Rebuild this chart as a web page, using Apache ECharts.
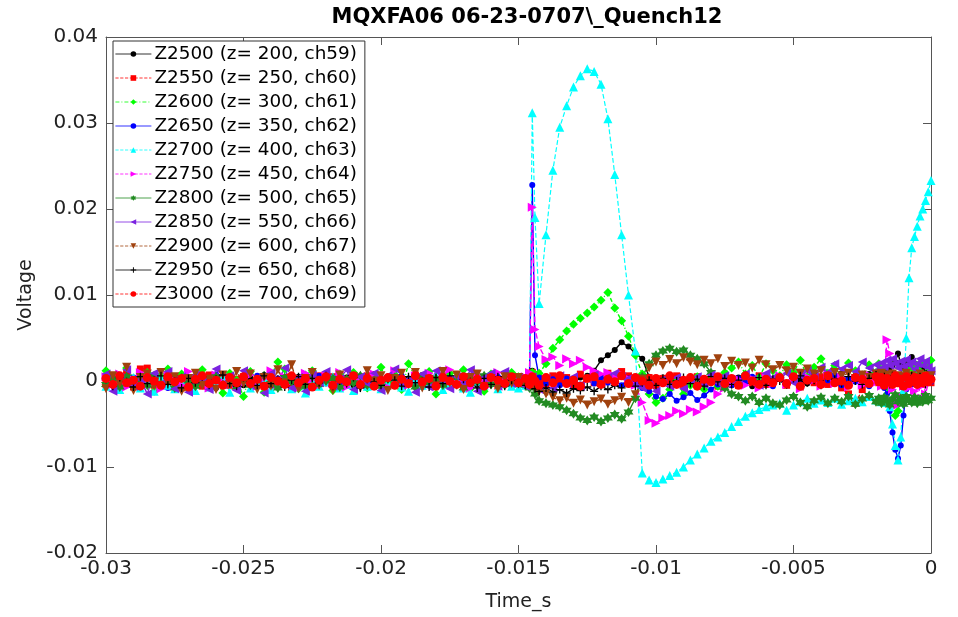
<!DOCTYPE html>
<html>
<head>
<meta charset="utf-8">
<script src="https://cdn.jsdelivr.net/npm/echarts@6/dist/echarts.min.js"></script>
<style>
html,body{margin:0;padding:0;background:#fff;}
#chart{width:958px;height:617px;}
</style>
</head>
<body>
<div id="chart"></div>
<script>
// Time samples in milliseconds
const time_ms = [
-30,-29.75,-29.5,-29.25,-29,-28.75,-28.5,-28.25,-28,-27.75,-27.5,-27.25,-27,-26.75,-26.5,-26.25,-26,-25.75,-25.5,-25.25,
-25,-24.75,-24.5,-24.25,-24,-23.75,-23.5,-23.25,-23,-22.75,-22.5,-22.25,-22,-21.75,-21.5,-21.25,-21,-20.75,-20.5,-20.25,
-20,-19.75,-19.5,-19.25,-19,-18.75,-18.5,-18.25,-18,-17.75,-17.5,-17.25,-17,-16.75,-16.5,-16.25,-16,-15.75,-15.5,-15.25,
-15,-14.75,-14.6,-14.5,-14.4,-14.25,-14,-13.75,-13.5,-13.25,-13,-12.75,-12.5,-12.25,-12,-11.75,-11.5,-11.25,-11,-10.75,
-10.5,-10.25,-10,-9.75,-9.5,-9.25,-9,-8.75,-8.5,-8.25,-8,-7.75,-7.5,-7.25,-7,-6.75,-6.5,-6.25,-6,-5.75,
-5.5,-5.25,-5,-4.75,-4.5,-4.25,-4,-3.75,-3.5,-3.25,-3,-2.75,-2.5,-2.25,-2,
-1.9,-1.8,-1.7,-1.6,-1.5,-1.4,-1.3,-1.2,-1.1,-1.0,-0.9,-0.8,-0.7,-0.6,-0.5,-0.4,-0.3,-0.2,-0.1,0
];

// Voltages in millivolts
const z2500_mV = [
0.3,-0.5,0.6,-0.2,0.1,-0.7,0.4,0.0,-0.3,0.8,-0.4,0.2,-0.6,0.5,-0.1,0.3,-0.8,0.2,0.6,-0.3,
-0.5,0.4,-0.1,0.7,-0.6,0.2,0.0,-0.4,0.5,-0.2,0.3,-0.7,0.6,-0.3,0.1,0.4,-0.5,0.2,-0.1,0.8,
-0.2,0.5,-0.6,0.1,0.3,-0.4,0.7,-0.3,0.0,0.4,-0.7,0.2,0.5,-0.5,0.1,-0.2,0.6,-0.4,0.3,-0.6,
0.2,-0.3,0.1,1.2,0.4,-0.5,-0.2,0.3,-0.4,0.2,-0.3,0.4,0.6,1.2,2.4,3.0,3.6,4.5,4.0,3.2,
2.6,0.5,-0.3,0.4,-0.6,0.2,-0.2,0.5,-0.4,0.1,0.6,-0.3,0.2,-0.5,0.4,0.0,-0.6,0.3,0.7,-0.2,
0.4,-0.5,0.6,0.1,-0.3,0.8,0.2,-0.4,0.5,0.9,-0.2,0.6,0.3,0.8,0.4,
0.6,1.0,0.5,1.2,1.5,1.8,2.2,3.2,2.0,1.5,1.8,2.3,2.8,2.0,1.6,1.2,1.5,0.9,1.1,0.7
];
const z2550_mV = [
-0.4,0.6,-0.2,0.9,-0.7,1.4,1.5,-0.5,0.1,-0.3,0.5,-0.8,0.2,0.4,-0.6,0.7,-0.1,0.3,-0.5,0.2,
0.5,-0.3,0.1,-0.6,0.8,-0.2,0.4,-0.9,0.3,0.0,-0.4,0.6,-0.1,0.5,-0.7,0.2,0.4,-0.3,0.6,-0.5,
0.1,-0.6,0.4,0.2,-0.3,0.7,-0.5,0.3,-0.1,0.6,-0.4,0.2,-0.8,0.5,0.0,-0.3,0.4,-0.6,0.2,0.5,
-0.3,0.2,0.0,1.0,0.5,0.3,-0.4,0.6,-0.2,0.4,-0.5,0.8,0.3,-0.2,0.5,0.9,0.4,1.1,0.6,0.2,
-0.2,0.4,-0.5,0.3,-0.1,0.6,-0.4,0.2,0.5,-0.3,0.1,-0.6,0.4,0.0,-0.5,0.3,-0.2,0.6,-0.4,0.1,
0.3,-0.5,0.2,-0.7,0.4,-0.2,0.5,-0.4,0.1,-0.8,-1.5,-2.6,-1.0,-0.3,0.4,
-0.2,0.5,-0.4,0.3,-0.6,0.2,-0.3,0.4,-0.1,0.6,-0.5,0.2,-0.3,0.5,-0.2,0.3,-0.4,0.1,0.4,-0.2
];
const z2600_mV = [
1.2,0.4,-0.8,1.5,0.3,-0.5,1.0,-1.2,0.6,1.4,-0.3,0.8,-1.0,0.5,1.3,-0.6,0.2,-1.4,0.9,0.1,
-1.8,1.1,0.3,-1.3,0.6,2.2,1.4,0.0,-0.9,0.7,1.2,-0.5,0.3,-1.1,0.8,-0.4,1.0,0.2,-0.8,0.5,
1.6,-0.3,0.7,-1.0,2.0,0.4,-0.6,1.1,-1.5,0.3,0.9,-0.4,1.3,-0.9,0.5,-1.2,0.8,0.1,-0.5,1.0,
0.5,0.3,0.2,1.0,0.8,0.9,2.0,3.8,4.8,5.8,6.6,7.3,7.9,8.6,9.4,10.3,8.5,7.0,5.2,3.0,
0.8,-1.5,-2.5,-2.0,-1.0,0.0,-1.5,-0.5,0.5,-1.0,0.3,-0.6,1.0,1.5,2.2,0.8,1.8,0.4,2.0,1.2,
0.6,1.9,1.0,2.4,0.5,1.6,2.6,0.9,1.8,0.3,2.1,1.2,0.7,1.9,1.0,
2.0,0.8,1.6,0.4,-1.0,-2.5,-4.0,-3.5,-2.0,0.2,1.2,0.6,1.5,0.9,1.8,1.1,2.2,0.7,1.6,2.4
];
const z2650_mV = [
-0.3,0.5,-0.7,0.2,0.4,-0.5,0.1,0.6,-0.2,-0.8,0.3,0.0,0.5,-0.4,0.2,-0.6,0.7,-0.1,0.3,-0.5,
0.4,-0.2,0.6,-0.6,0.1,0.3,-0.4,0.5,-0.7,0.2,0.0,0.6,-0.3,0.4,-0.5,0.1,0.7,-0.2,-0.6,0.3,
-0.1,0.4,-0.5,0.6,-0.3,0.2,-0.7,0.5,0.1,-0.4,0.3,-0.2,0.6,-0.6,0.4,0.0,-0.3,0.5,-0.5,0.2,
0.3,-0.2,0.5,22.8,3.0,0.4,-0.3,0.2,-0.5,0.3,0.0,-0.4,0.2,-0.3,0.4,-0.2,0.1,-0.5,0.3,0.0,
-0.8,-1.2,-1.8,-2.1,-1.5,-2.3,-1.9,-1.4,-2.2,-1.7,-1.0,-0.4,0.2,-0.5,0.3,-0.2,0.5,-0.3,0.1,-0.6,
0.4,-0.2,0.6,-0.4,0.2,0.5,-0.3,0.1,0.7,-0.5,0.3,-0.1,0.4,-0.6,0.2,
0.5,-0.3,-0.8,-1.5,-3.5,-6.0,-8.0,-9.0,-7.5,-4.0,-1.0,0.3,-0.4,0.5,-0.2,0.6,-0.3,0.2,0.4,-0.1
];
const z2700_mV = [
-0.6,0.2,-1.0,-0.3,0.4,-0.8,-0.1,-1.2,0.3,-0.5,-0.9,0.1,-0.4,-1.1,0.2,-0.7,-0.2,0.5,-1.3,-0.4,
0.1,-0.8,-0.3,0.4,-1.0,-0.5,0.2,-0.9,-0.2,-1.4,0.3,-0.6,-0.1,0.5,-0.8,-0.4,-1.1,0.0,-0.6,0.3,
-0.9,-0.2,0.4,-0.7,-1.2,0.1,-0.5,-0.3,0.6,-1.0,-0.4,0.2,-0.8,-1.3,0.0,-0.5,0.3,-0.9,-0.2,-0.6,
-0.8,-0.5,0.5,31.2,19.0,9.0,17.0,24.5,29.5,32.0,34.2,35.5,36.3,36.0,34.5,30.5,24.0,17.0,10.0,3.5,
-10.7,-11.5,-11.8,-11.4,-11.0,-10.6,-10.0,-9.2,-8.5,-7.8,-7.0,-6.5,-6.0,-5.3,-4.7,-4.1,-3.7,-3.3,-3.0,-2.8,
-2.6,-3.4,-2.8,-2.4,-2.0,-2.6,-2.2,-2.5,-2.0,-2.7,-2.3,-2.0,-2.4,-1.8,-2.2,
-2.0,-2.4,-1.8,-2.5,-3.0,-5.0,-7.5,-9.2,-6.5,-1.0,5.0,12.0,15.5,16.8,18.0,19.2,20.0,21.0,22.0,23.3
];
const z2750_mV = [
0.5,-0.4,0.8,-0.7,0.2,1.0,-0.3,0.4,-0.9,0.6,0.1,-0.5,1.1,-0.2,0.3,-0.8,0.7,-0.1,0.4,-0.6,
-0.2,0.7,-0.6,0.3,1.2,-0.4,0.5,-0.1,-0.8,0.9,0.2,-0.5,0.6,-0.3,1.0,-0.7,0.4,0.1,-0.4,0.8,
0.3,-0.7,1.2,0.0,-0.5,0.6,-0.2,0.9,-0.6,0.4,1.3,-0.3,0.2,-0.8,0.7,0.1,-0.4,1.0,-0.1,0.5,
0.3,0.5,1.0,20.2,6.0,4.0,2.5,2.8,1.8,2.6,2.0,2.4,1.6,1.2,0.8,1.0,0.5,0.8,0.3,-0.5,
-2.5,-4.6,-4.9,-4.3,-4.0,-3.5,-3.8,-3.3,-3.6,-3.0,-2.5,-1.5,-0.8,-0.3,0.2,-0.5,0.3,-0.8,0.5,-0.3,
0.6,-0.4,0.2,-0.9,0.5,0.1,-0.6,0.8,-0.3,0.4,-0.7,0.2,-0.5,0.7,-0.2,
0.4,-0.6,0.3,4.8,3.2,-1.0,-2.5,-2.8,-1.8,-0.6,0.3,-0.8,0.5,-1.2,-2.0,-0.7,0.4,-1.5,-0.3,0.2
];
const z2800_mV = [
-0.4,0.3,-0.7,0.5,-0.1,0.2,-0.5,0.6,-0.3,0.1,-0.8,0.4,0.0,-0.6,0.3,-0.2,0.5,-0.4,0.2,-0.7,
0.3,-0.5,0.1,0.6,-0.3,-0.8,0.4,-0.1,0.2,-0.6,0.5,-0.4,0.0,0.3,-0.7,0.2,-0.2,0.6,-0.5,0.1,
-0.6,0.2,0.4,-0.3,0.1,-0.7,0.5,-0.2,0.3,-0.5,0.0,0.4,-0.8,0.2,-0.1,0.6,-0.4,0.1,-0.3,0.3,
-0.3,-0.5,-0.8,-0.5,-1.5,-2.3,-2.6,-2.8,-3.0,-3.4,-3.8,-4.3,-4.6,-4.2,-4.7,-4.3,-3.9,-4.4,-3.6,-2.0,
0.5,2.0,3.0,3.5,3.8,3.4,3.6,3.0,2.6,2.0,1.0,0.3,-0.8,-1.5,-1.8,-2.3,-1.8,-2.5,-2.0,-2.6,
-2.8,-2.2,-1.8,-2.5,-3.0,-2.3,-1.9,-2.6,-2.0,-2.4,-1.8,-2.7,-2.1,-1.7,-2.4,
-2.0,-2.6,-1.9,-2.3,-2.8,-2.1,-1.6,-2.4,-2.0,-2.7,-1.8,-2.2,-2.5,-1.9,-2.6,-2.1,-2.4,-1.7,-2.3,-2.0
];
const z2850_mV = [
0.8,-1.2,0.4,1.3,-0.6,0.2,-1.5,0.9,-0.3,1.1,-0.9,0.5,-1.3,0.7,0.1,-1.0,1.4,-0.4,0.6,-1.1,
1.2,-0.5,0.3,-1.4,0.9,0.0,1.5,-0.8,0.4,-1.2,0.7,-0.2,1.1,-0.6,0.3,1.3,-1.0,0.5,-0.3,0.9,
-1.1,0.6,1.4,-0.4,0.2,-1.3,0.8,-0.7,1.2,0.1,-0.9,0.5,-0.2,1.3,-1.2,0.4,0.9,-0.6,1.1,-0.3,
0.4,-0.6,0.2,0.5,-0.4,-1.0,0.3,-0.8,0.6,-0.3,0.5,-0.6,0.2,0.7,-0.2,0.4,0.9,0.5,0.3,-0.4,
-0.8,-0.3,-1.2,0.2,-0.6,0.4,-0.9,0.1,0.5,-0.4,0.7,-0.2,0.6,0.1,-0.3,0.8,0.2,-0.5,0.9,0.4,
0.3,0.9,-0.2,0.6,1.2,0.5,1.6,1.0,2.0,1.4,1.8,1.1,2.2,1.5,1.9,
1.3,2.1,1.6,2.4,1.8,2.6,2.0,1.5,2.3,1.7,2.5,1.9,2.2,1.4,2.0,2.6,1.8,2.3,1.6,1.2
];
const z2900_mV = [
-0.9,0.6,-0.3,1.6,-1.1,0.4,0.8,-0.6,1.0,-0.2,0.5,-1.2,0.3,0.9,-0.5,0.2,-1.0,0.7,-0.4,1.1,
-0.3,0.8,-1.0,0.4,-0.6,1.3,-0.2,1.9,-0.9,0.3,1.0,-0.5,0.2,-1.1,0.7,-0.3,0.5,-0.8,1.2,0.0,
0.6,-1.1,0.3,0.9,-0.4,1.0,-0.8,0.2,-0.5,1.1,-0.2,0.7,-1.0,0.4,0.8,-0.6,0.3,-0.9,0.5,-0.3,
0.4,-0.3,-0.5,-0.2,-0.8,-1.2,-1.5,-1.9,-2.3,-2.0,-2.6,-2.2,-2.8,-2.4,-2.1,-2.7,-2.3,-1.9,-2.5,-1.6,
0.2,1.5,2.2,1.8,2.5,2.0,2.7,2.2,1.9,2.4,2.0,2.6,1.7,2.3,1.8,2.1,1.5,2.4,1.9,1.3,
1.8,1.2,1.6,0.9,1.4,0.8,1.2,0.5,1.0,0.6,0.9,0.3,0.7,0.4,0.8,
0.5,0.9,0.2,0.7,0.3,0.8,0.1,0.6,-0.2,0.5,0.9,0.2,0.6,-0.1,0.4,0.8,0.3,0.5,0.0,0.6
];
const z2950_mV = [
0.2,-0.6,0.4,-0.1,-0.7,0.5,-0.3,0.1,0.6,-0.4,0.0,-0.8,0.3,-0.2,0.5,-0.5,0.2,0.7,-0.3,-0.6,
0.4,-0.1,-0.5,0.6,-0.3,0.2,-0.7,0.1,0.5,-0.4,0.3,-0.2,0.6,-0.6,0.0,-0.3,0.4,-0.8,0.2,-0.1,
-0.5,0.3,0.1,-0.6,0.5,-0.2,0.0,-0.7,0.4,-0.3,0.6,-0.5,0.2,-0.1,-0.8,0.3,-0.4,0.5,-0.6,0.1,
-0.3,-0.5,-0.4,-0.2,-0.9,-1.2,-0.8,-1.3,-1.0,-1.4,-0.9,-1.1,-0.7,-1.2,-0.6,-1.0,-0.5,-0.8,-0.3,-0.6,
-0.2,0.1,-0.5,0.3,-0.4,0.0,0.4,-0.3,0.2,-0.6,0.5,-0.1,0.3,-0.4,0.1,0.6,-0.2,0.4,-0.5,0.2,
0.0,-0.4,0.3,0.6,-0.2,0.1,-0.5,0.4,0.2,-0.3,0.5,0.0,-0.4,0.3,0.7,
0.2,-0.3,0.5,0.1,-0.4,0.6,-0.1,0.3,-0.5,0.2,0.4,-0.2,0.6,0.0,-0.3,0.5,0.1,-0.4,0.3,0.2
];
const z3000_mV = [
0.3,-0.4,0.6,-0.2,0.1,-0.6,0.4,0.0,-0.5,0.5,-0.1,0.3,-0.7,0.2,0.6,-0.3,0.1,-0.5,0.4,-0.2,
0.5,-0.3,0.2,-0.6,0.4,0.0,-0.4,0.6,-0.2,0.3,-0.7,0.1,0.5,-0.5,0.2,-0.1,0.6,-0.4,0.3,-0.6,
0.1,0.4,-0.5,0.2,-0.3,0.6,-0.1,0.3,-0.6,0.4,0.0,-0.4,0.5,-0.2,0.2,-0.6,0.4,0.1,-0.3,0.5,
-0.2,0.3,-0.4,0.5,0.0,-0.5,0.4,-0.2,0.6,-0.3,0.1,-0.6,0.3,0.5,-0.4,0.2,-0.1,0.6,-0.3,0.4,
0.0,-0.5,0.3,-0.2,0.6,-0.4,0.1,0.4,-0.6,0.2,-0.1,0.5,-0.3,0.3,-0.5,0.6,0.0,-0.4,0.2,-0.2,
0.4,-0.3,0.5,-0.6,0.1,0.3,-0.4,0.6,-0.2,0.0,-0.5,0.4,0.2,-0.3,0.5,
-0.1,0.4,-0.5,0.3,0.0,-0.4,0.6,-0.2,0.2,-0.6,0.5,-0.3,0.1,0.4,-0.4,0.3,-0.2,0.6,-0.1,0.2
];

const seriesNames = [
'Z2500 (z= 200, ch59)','Z2550 (z= 250, ch60)','Z2600 (z= 300, ch61)','Z2650 (z= 350, ch62)',
'Z2700 (z= 400, ch63)','Z2750 (z= 450, ch64)','Z2800 (z= 500, ch65)','Z2850 (z= 550, ch66)',
'Z2900 (z= 600, ch67)','Z2950 (z= 650, ch68)','Z3000 (z= 700, ch69)'
];
const seriesValues = [z2500_mV,z2550_mV,z2600_mV,z2650_mV,z2700_mV,z2750_mV,z2800_mV,z2850_mV,z2900_mV,z2950_mV,z3000_mV];

const xTicks = [-0.03,-0.025,-0.02,-0.015,-0.01,-0.005,0];
const yTicks = [-0.02,-0.01,0,0.01,0.02,0.03,0.04];

const HEX = 'path://M0,-10L2.89,-5L8.66,-5L5.77,0L8.66,5L2.89,5L0,10L-2.89,5L-8.66,5L-5.77,0L-8.66,-5L-2.89,-5Z';
const PLUS = 'path://M-1,-6H1V-1H6V1H1V6H-1V1H-6V-1H-1Z';
const styles = [
  {color:'#000000', symbol:'circle', size:6, rot:0, dash:'solid', w:1.4},
  {color:'#ff0000', symbol:'rect', size:7, rot:0, dash:'dashed', w:1.4},
  {color:'#00ff00', symbol:'diamond', size:9, rot:0, dash:[4,2,1,2], w:1.4},
  {color:'#0000ff', symbol:'circle', size:6, rot:0, dash:'solid', w:1.4},
  {color:'#00ffff', symbol:'triangle', size:9, rot:0, dash:'dashed', w:1.2},
  {color:'#ff00ff', symbol:'triangle', size:9, rot:-90, dash:'dashed', w:1.4},
  {color:'#228b22', symbol:HEX, size:10, rot:0, dash:'solid', w:1.4},
  {color:'#7b22e0', symbol:'triangle', size:9, rot:90, dash:'solid', w:1.4},
  {color:'#a0420e', symbol:'triangle', size:9, rot:180, dash:'dashed', w:1.4},
  {color:'#000000', symbol:PLUS, size:8, rot:0, dash:'solid', w:1.4},
  {color:'#ff0000', symbol:'circle', size:9, rot:0, dash:'solid', w:3}
];
const legendDash = ['solid','dashed',[4,2,1,2],'solid','dashed','dashed','solid','solid','dashed','solid','dashed'];

const series = seriesNames.map((name, i) => {
  const s = styles[i];
  return {
    name: name,
    type: 'line',
    data: time_ms.map((t, k) => [t / 1000, seriesValues[i][k] / 1000]),
    symbol: s.symbol,
    symbolSize: s.size,
    symbolRotate: s.rot,
    showSymbol: true,
    showAllSymbol: true,
    clip: true,
    lineStyle: {color: s.color, width: s.w, type: s.dash},
    itemStyle: {color: s.color, borderWidth: 0},
    emphasis: {disabled: true},
    animation: false
  };
});

const fmt = v => String(+(+v).toFixed(4));
const FONT = 'DejaVu Sans';
const axisCol = '#555';

const chart = echarts.init(document.getElementById('chart'), null, {renderer: 'canvas'});
chart.setOption({
  backgroundColor: '#fff',
  animation: false,
  title: {
    text: 'MQXFA06 06-23-0707\\_Quench12',
    left: 522, textAlign: 'center', top: 2,
    textStyle: {fontFamily: FONT, fontSize: 21, fontWeight: 'bold', color: '#000'}
  },
  grid: {left: 106, right: 27, top: 37, bottom: 63, containLabel: false},
  legend: {
    orient: 'vertical',
    left: 113, top: 41,
    data: seriesNames.map((n, i) => ({name: n, lineStyle: {width: 0.8, type: legendDash[i]}})),
    itemWidth: 36, itemHeight: 7, itemGap: 6,
    padding: [4, 8, 4, 2],
    borderColor: '#333', borderWidth: 1, backgroundColor: '#fff',
    textStyle: {fontFamily: FONT, fontSize: 18.4, color: '#000', padding: [0,0,0,-2]},
    selectedMode: false
  },
  xAxis: [{
    type: 'value', min: xTicks[0], max: xTicks[xTicks.length-1], interval: 0.005,
    name: 'Time_s', nameLocation: 'middle', nameGap: 40,
    nameTextStyle: {fontFamily: FONT, fontSize: 19, color: '#222'},
    axisLine: {show: true, onZero: false, lineStyle: {color: axisCol, width: 1}},
    axisTick: {show: true, inside: true, length: 8, lineStyle: {color: axisCol}},
    axisLabel: {formatter: fmt, fontFamily: FONT, fontSize: 20, color: '#222', margin: 6},
    splitLine: {show: false}
  }, {
    type: 'value', position: 'top', min: xTicks[0], max: xTicks[xTicks.length-1], interval: 0.005,
    axisLine: {show: true, onZero: false, lineStyle: {color: axisCol, width: 1}},
    axisTick: {show: true, inside: true, length: 8, lineStyle: {color: axisCol}},
    axisLabel: {show: false}, splitLine: {show: false}
  }],
  yAxis: [{
    type: 'value', min: yTicks[0], max: yTicks[yTicks.length-1], interval: 0.01,
    name: 'Voltage', nameLocation: 'middle', nameGap: 66,
    nameTextStyle: {fontFamily: FONT, fontSize: 19, color: '#222'},
    axisLine: {show: true, onZero: false, lineStyle: {color: axisCol, width: 1}},
    axisTick: {show: true, inside: true, length: 8, lineStyle: {color: axisCol}},
    axisLabel: {formatter: fmt, fontFamily: FONT, fontSize: 20, color: '#222', margin: 8},
    splitLine: {show: false}
  }, {
    type: 'value', position: 'right', min: yTicks[0], max: yTicks[yTicks.length-1], interval: 0.01,
    axisLine: {show: true, onZero: false, lineStyle: {color: axisCol, width: 1}},
    axisTick: {show: true, inside: true, length: 8, lineStyle: {color: axisCol}},
    axisLabel: {show: false}, splitLine: {show: false}
  }],
  series: series
});
</script>
</body>
</html>
